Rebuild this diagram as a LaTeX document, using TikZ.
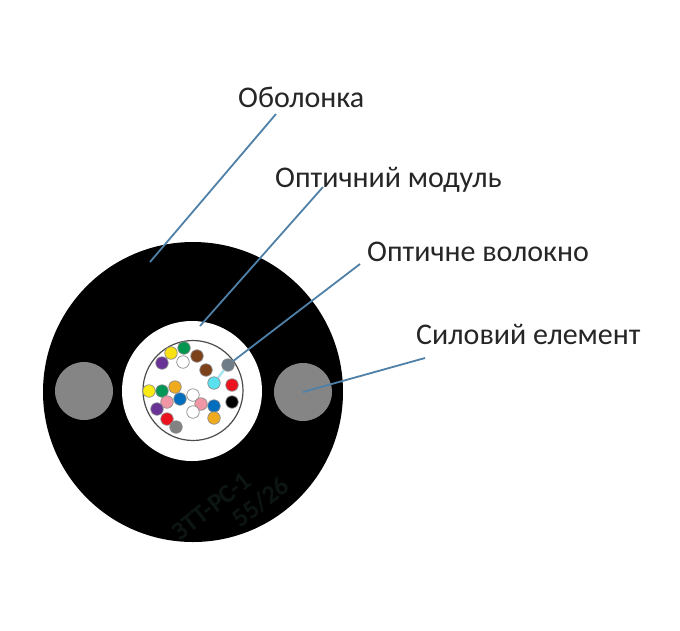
\documentclass[tikz,border=0pt]{standalone}
\usepackage{fontspec}
\setmainfont{Carlito}
\definecolor{leader}{HTML}{4F81A8}
\definecolor{strength}{HTML}{858585}
\definecolor{stamp}{HTML}{0C1512}
\definecolor{paleleader}{HTML}{A6E4EE}
\tikzset{
  px/.style={x=1pt,y=-1pt},
  sheath/.style={circle,fill=black,minimum size=300pt,inner sep=0pt},
  buffer/.style={circle,fill=white,minimum size=140pt,inner sep=0pt},
  tube/.style={circle,draw=black!70,line width=1.2pt,minimum size=100pt,inner sep=0pt},
  member/.style={circle,fill=strength,minimum size=58pt,inner sep=0pt},
  fibre/.style={circle,draw=black!45,line width=.7pt,minimum size=12.5pt,inner sep=0pt},
  caption/.style={font=\fontsize{30}{34}\selectfont,text=black!85,inner sep=0pt},
  leaderline/.style={draw=leader,line width=1.8pt},
  marking/.style={text=stamp,font=\bfseries\fontsize{26}{27}\selectfont,rotate=38,inner sep=0pt,align=left}
}
\begin{document}
\begin{tikzpicture}[px]
\useasboundingbox (0,0) rectangle (680,630);
\fill[white] (0,0) rectangle (680,630);

% cable cross-section
\node[sheath] (jacket) at (193,392) {};
\node[marking] (mark) at (231,509) {ЗТТ-РС-1\\\hspace*{55pt}55/26};
\node[member] (memberL) at (84,391) {};
\node[member] (memberR) at (303,392) {};
\node[buffer] (buffer) at (192,391) {};
\node[tube] (tube) at (193,390.5) {};

% optical fibres
\foreach \n/\fx/\fy/\col in {
  a/184/348/{0,150,80}, b/171/353/{250,225,20}, c/162/363/{105,50,150},
  d/183/362/{255,255,255}, e/197/356/{125,65,25}, f/206/370/{125,65,25},
  g/228/365/{110,125,135}, h/214/383/{90,225,240}, i/232/385/{235,20,30},
  j/232/402/{0,0,0}, k/149/391/{250,235,20}, l/162/391/{0,150,85},
  m/175/387/{240,170,30}, n/167/402/{240,150,165}, o/180/399/{0,110,190},
  p/193/395/{255,255,255}, q/201/404/{240,150,165}, r/214/406/{0,110,190},
  s/214/418/{240,170,30}, t/193/412/{255,255,255}, u/157/409/{105,50,150},
  v/167/419/{235,20,30}, w/176/427/{130,130,130}} {
  \definecolor{fibrefill}{RGB}{\col}
  \node[fibre,fill=fibrefill] (fibre\n) at (\fx,\fy) {};
}

% captions
\node[caption,anchor=base west] (capSheath) at (238,107) {Оболонка};
\node[caption,anchor=base west] (capTube) at (275,187) {Оптичний модуль};
\node[caption,anchor=base west] (capFibre) at (367,261) {Оптичне волокно};
\node[caption,anchor=base west] (capMember) at (416,344) {Силовий елемент};

% leader ends
\coordinate (startSheath) at (276,114);
\coordinate (endSheath) at (150,262);
\coordinate (startTube) at (323,187);
\coordinate (endTube) at (200,326);
\coordinate (startFibre) at (360,264);
\coordinate (startMember) at (425,358);
\coordinate (endMember) at (memberR.center);

\draw[leaderline] (startSheath) -- (endSheath);
\draw[leaderline] (startTube) -- (endTube);
\draw[leaderline] (startFibre) -- (fibreg);
\draw[draw=paleleader,line width=2.4pt] (fibreg) -- (fibreh);
\draw[leaderline] (startMember) -- (endMember);
\end{tikzpicture}
\end{document}
